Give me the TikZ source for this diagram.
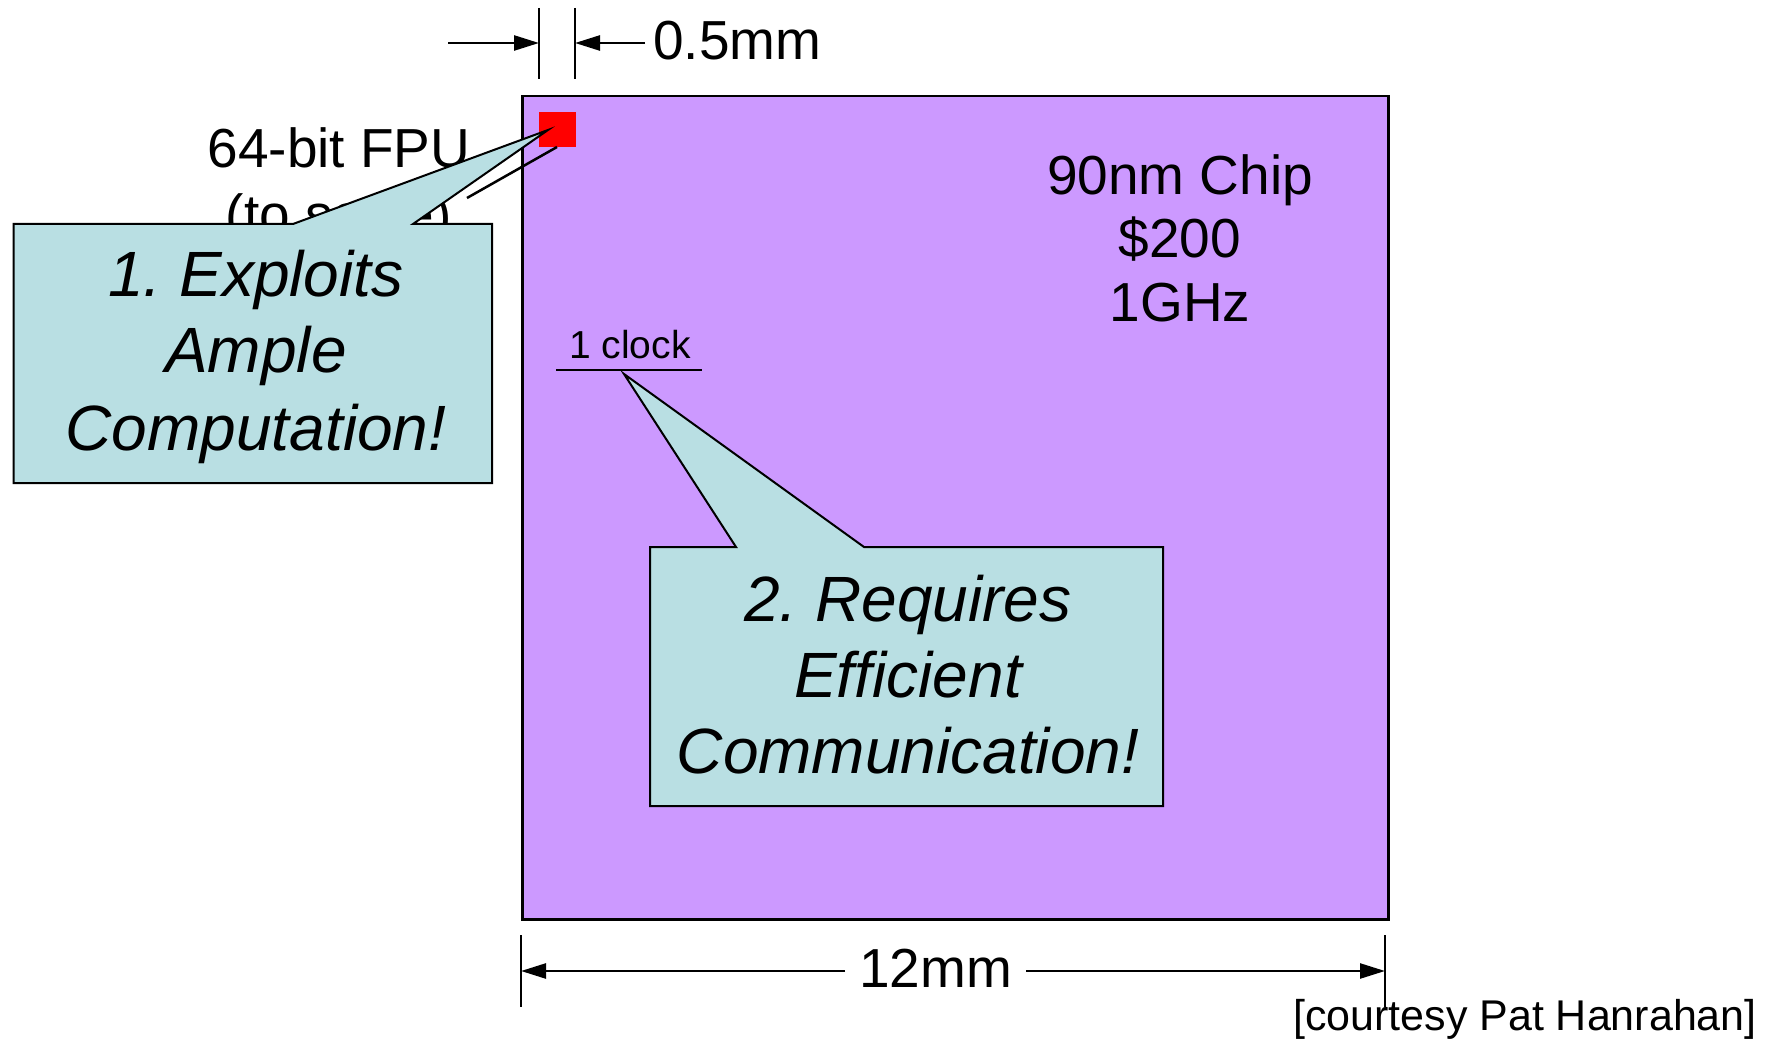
\documentclass[tikz,border=0pt]{standalone}
\usepackage{fontspec}
\setmainfont{Liberation Sans}
\usetikzlibrary{arrows.meta}
\definecolor{chipc}{HTML}{CC99FF}
\definecolor{callc}{HTML}{B9DFE3}
\definecolor{fpuc}{HTML}{FF0000}
\frenchspacing
\begin{document}
\begin{tikzpicture}[x=1pt,y=-1pt,
  txt/.style={inner sep=0pt,anchor=base,font=\fontsize{55}{64}\selectfont},
  small/.style={inner sep=0pt,anchor=base,font=\fontsize{39}{45}\selectfont},
  calltxt/.style={inner sep=0pt,anchor=base,font=\fontsize{64}{76}\selectfont\itshape},
  callout/.style={fill=callc,draw=black,line width=2pt,line join=miter},
  dimline/.style={line width=2pt},
  dimarrow/.style={line width=2.5pt,-{Triangle[length=25pt,width=15pt]}},
]
\useasboundingbox (0,0) rectangle (1767,1040);

% FPU label (partly hidden)
\node[txt] (fpu1) at (339,168) {64-bit FPU};
\node[txt] (fpu2) at (339,234) {(to scale)};

% chip
\node[draw=black,line width=2.5pt,fill=chipc,minimum width=866pt,minimum height=823pt,inner sep=0pt,anchor=north west] (chip) at (521,95) {};
\node[fill=fpuc,minimum width=37pt,minimum height=35pt,inner sep=0pt,anchor=north west] (fpu) at (539,112) {};

\node[txt] (c1) at (1180,195) {90nm Chip};
\node[txt] (c2) at (1180,258) {\$200};
\node[txt] (c3) at (1180,322) {1GHz};

% 1 clock
\node[small] (clk) at (630,359) {1 clock};
\coordinate (clkL) at (556,370);
\coordinate (clkR) at (702,370);
\draw[line width=2.5pt] (clkL) -- (clkR);

% leader line from FPU label
\coordinate (ldA) at (467,198);
\coordinate (ldB) at (557,147);
\draw[line width=2.5pt] (ldA) -- (ldB);

% callout 1
\draw[callout] (13.5,224) -- (293,224) -- (548,130) -- (413,224) -- (492,224) -- (492,483) -- (13.5,483) -- cycle;
\node[calltxt] (t11) at (256,297) {1. Exploits};
\node[calltxt] (t12) at (256,373) {Ample};
\node[calltxt] (t13) at (256,450) {Computation!};

% callout 2
\draw[callout] (650,547) -- (736,547) -- (624,374) -- (864,547) -- (1163,547) -- (1163,806) -- (650,806) -- cycle;
\node[calltxt] (t21) at (908,621) {2. Requires};
\node[calltxt] (t22) at (908,697) {Efficient};
\node[calltxt] (t23) at (908,773) {Communication!};

% 0.5mm dimension
\coordinate (tA1) at (539,8); \coordinate (tA2) at (539,79);
\coordinate (tB1) at (575,8); \coordinate (tB2) at (575,79);
\draw[dimline] (tA1) -- (tA2);
\draw[dimline] (tB1) -- (tB2);
\coordinate (aL) at (448,43); \coordinate (aLe) at (539,43);
\coordinate (aR) at (645,43); \coordinate (aRe) at (575,43);
\draw[dimarrow] (aL) -- (aLe);
\draw[dimarrow] (aR) -- (aRe);
\node[txt,anchor=base west] (half) at (653,60) {0.5mm};

% 12mm dimension
\coordinate (tC1) at (521,935); \coordinate (tC2) at (521,1007);
\coordinate (tD1) at (1385,935); \coordinate (tD2) at (1385,1007);
\draw[dimline] (tC1) -- (tC2);
\draw[dimline] (tD1) -- (tD2);
\node[txt] (twelve) at (935.5,987) {12mm};
\coordinate (bL) at (845,971); \coordinate (bLe) at (521,971);
\coordinate (bR) at (1026,971); \coordinate (bRe) at (1385,971);
\draw[dimarrow] (bL) -- (bLe);
\draw[dimarrow] (bR) -- (bRe);

% credit
\node[inner sep=0pt,anchor=base east,font=\fontsize{43}{50}\selectfont] (credit) at (1757,1030) {[courtesy Pat Hanrahan]};
\end{tikzpicture}
\end{document}
